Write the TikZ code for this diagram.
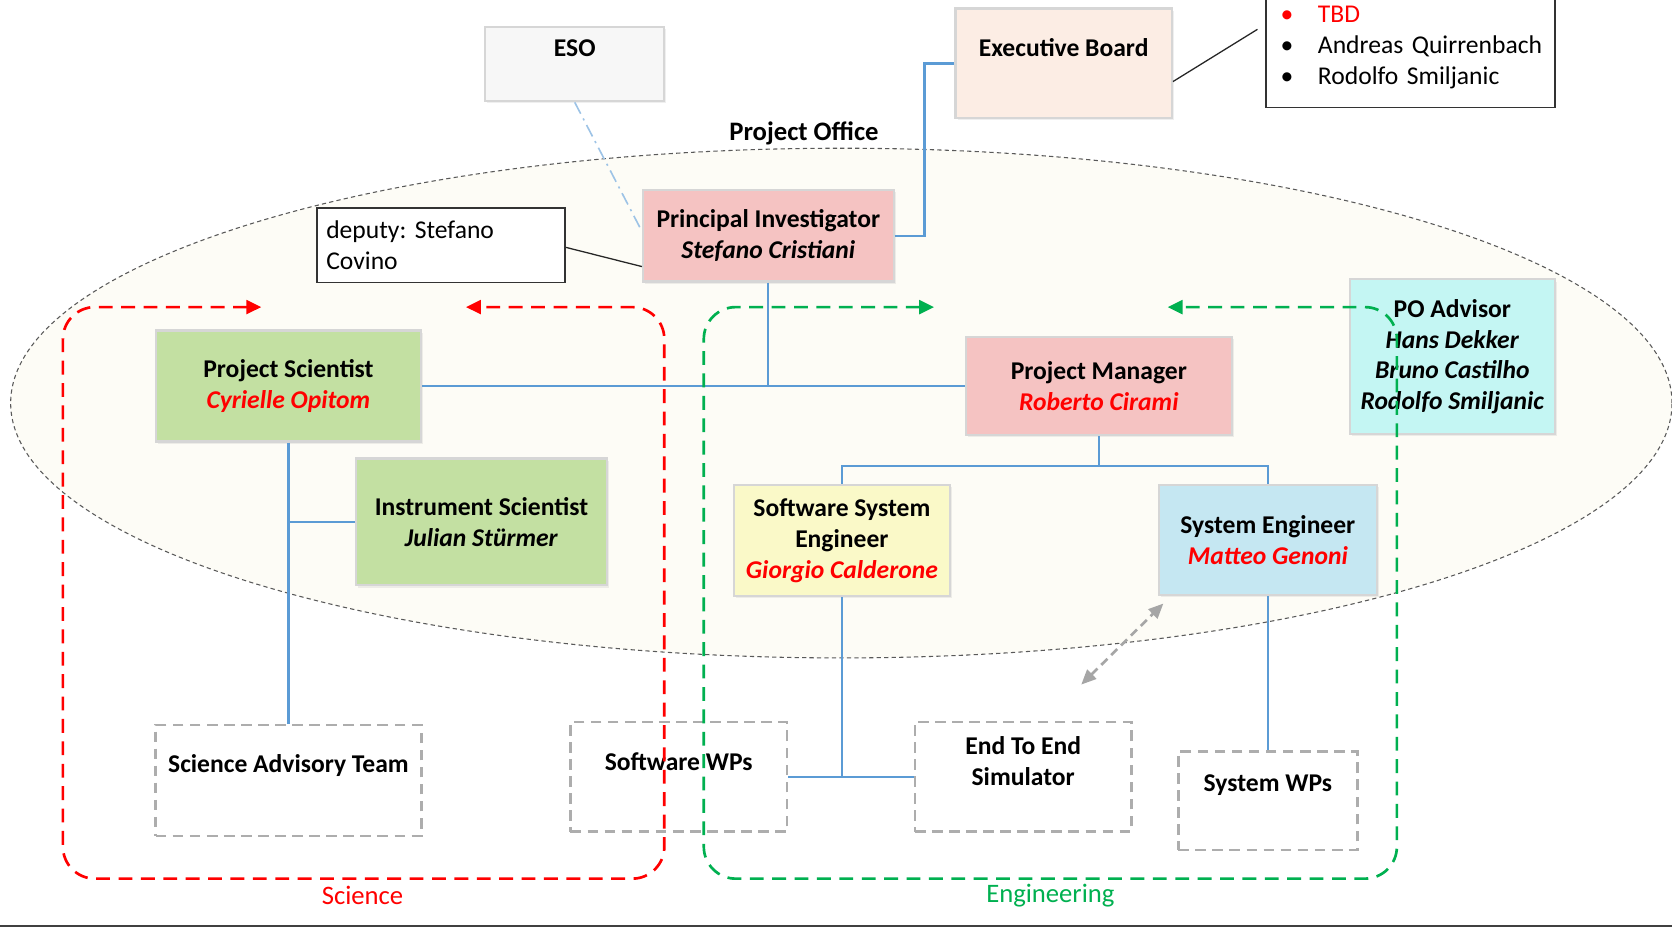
\documentclass[tikz,border=0pt]{standalone}
\usepackage{fontspec}
\setmainfont{Carlito}
\usetikzlibrary{arrows.meta,shadows}
\definecolor{pinkf}{HTML}{F5C3C2}
\definecolor{greenf}{HTML}{C3E0A2}
\definecolor{yellowf}{HTML}{FAF9C8}
\definecolor{bluef}{HTML}{C5E7F2}
\definecolor{cyanf}{HTML}{C4F6F3}
\definecolor{esof}{HTML}{F7F7F7}
\definecolor{ebf}{HTML}{FCEDE4}
\definecolor{ellf}{HTML}{FDFCF6}
\definecolor{connb}{HTML}{5B9BD5}
\definecolor{rgrp}{HTML}{FF0000}
\definecolor{ggrp}{HTML}{00B050}
\definecolor{bgray}{HTML}{D6D6D6}
\definecolor{wgray}{HTML}{ADADAD}
\definecolor{agray}{HTML}{A6A6A6}
\definecolor{eslight}{HTML}{9DC3E6}
\begin{document}
\begin{tikzpicture}[x=1pt,y=-1pt,
  fs/.style={font=\fontsize{24}{29}\selectfont\frenchspacing},
  fsb/.style={font=\fontsize{24}{29}\selectfont\bfseries},
  box/.style={fsb, draw=bgray, line width=2pt, inner sep=0pt, align=center,
    drop shadow={opacity=0.12,shadow xshift=2pt,shadow yshift=-2pt}},
  wpbox/.style={draw=wgray, line width=2.5pt, dash pattern=on 10pt off 6pt, fill=white, inner sep=0pt},
  plainbox/.style={fs, draw=black!80, line width=1.5pt, fill=white, inner ysep=0pt, align=left},
  conn/.style={connb, line width=2pt},
  grpline/.style={line width=2.5pt, dash pattern=on 13pt off 8pt, rounded corners=30pt,
    {Triangle[length=14pt,width=13pt]}-{Triangle[length=14pt,width=13pt]}},
  title/.style={font=\fontsize{25}{30}\selectfont}
]
\useasboundingbox (0,0) rectangle (1568,869);
\fill[white] (0,0) rectangle (1568,869);

% Project office ellipse
\path[draw=black!65, dash pattern=on 4pt off 3pt, line width=1pt, fill=ellf]
  (789,378) ellipse [x radius=779pt, y radius=239pt];

% boxes
\node[box, fill=esof, minimum width=168, minimum height=70] (eso) at (539,60) {};
\node[box, fill=ebf, minimum width=203, minimum height=103] (eb) at (997.5,59.5) {};
\node[box, fill=pinkf, minimum width=235, minimum height=86] (pi) at (720.5,221) {Principal Investigator\\\textit{Stefano Cristiani}};
\node[box, fill=greenf, minimum width=249, minimum height=104] (ps) at (270.5,362) {Project Scientist\\\textcolor{rgrp}{\textit{Cyrielle Opitom}}};
\node[box, fill=greenf, minimum width=235, minimum height=119] (is) at (451.5,489.5) {Instrument Scientist\\\textit{Julian Stürmer}};
\node[box, fill=pinkf, minimum width=249, minimum height=92] (pm) at (1030.5,362) {Project Manager\\\textcolor{rgrp}{\textit{Roberto Cirami}}};
\node[box, fill=cyanf, minimum width=192, minimum height=145] (po) at (1362,334.5) {PO Advisor\\\textit{Hans Dekker}\\\textit{Bruno Castilho}\\\textit{Rodolfo Smiljanic}};
\node[box, fill=yellowf, minimum width=203, minimum height=104] (sse) at (789.5,507) {Software System\\Engineer\\\textcolor{rgrp}{\textit{Giorgio Calderone}}};
\node[box, fill=bluef, minimum width=204, minimum height=103] (se) at (1189,506.5) {System Engineer\\\textcolor{rgrp}{\textit{Matteo Genoni}}};

\node[wpbox, minimum width=249, minimum height=104] (sat) at (270.5,732) {};
\node[wpbox, minimum width=203, minimum height=103] (swp) at (636.5,728.5) {};
\node[wpbox, minimum width=203, minimum height=103] (e2e) at (959.5,728.5) {};
\node[wpbox, minimum width=168, minimum height=92] (syswp) at (1189,751) {};

\node[plainbox, minimum height=70, text width=215, inner xsep=9pt] (dep) at (413.5,230) {deputy: Stefano\\Covino};
\node[plainbox, minimum height=113, text width=257, inner xsep=7pt] (tbd) at (1322.5,44.5)
  {\mbox{\hspace*{7pt}\textcolor{rgrp}{\makebox[35pt][l]{•}TBD}}\\
   \mbox{\hspace*{7pt}\makebox[35pt][l]{•}Andreas Quirrenbach}\\
   \mbox{\hspace*{7pt}\makebox[35pt][l]{•}Rodolfo Smiljanic}};

% connectors
\draw[eslight, line width=1.5pt, dash pattern=on 12pt off 5pt on 2pt off 5pt] (eso.south) -- ([yshift=4pt]pi.west);
\draw[black!85, line width=1.2pt] ([yshift=-17pt]eb.east) -- ([shift={(-7pt,17pt)}]tbd.west);
\draw[black!85, line width=1.2pt] ([yshift=-2pt]dep.east) -- ([yshift=-29pt]pi.west);
\draw[conn] (pi.east) -- ++(28,0) |- (eb.west);
\draw[conn] (ps.east) -- (pm.west);
\draw[conn] (pi.south) -- (pi.south |- pm.west);
\draw[conn] (ps.south) -- (sat.north);
\draw[conn] (is.west) -- (is.west -| ps.south);
\draw[conn] (pm.south) -- ++(0,28) -| (sse.north);
\draw[conn] (pm.south) ++(0,28) -| (se.north);
\draw[conn] (sse.south) -- (sse.south |- e2e.west);
\draw[conn] (swp.east) -- (e2e.west);
\draw[conn] (se.south) -- (syswp.north);

% texts in top-aligned boxes
\node[fsb] (esot) at ([yshift=15pt]eso.center) {ESO};
\node[fsb] (ebt) at ([yshift=14.5pt]eb.center) {Executive Board};
\node[fsb] (satt) at ([yshift=14.5pt]sat.center) {Science Advisory Team};
\node[fsb] (swpt) at ([yshift=14.5pt]swp.center) {Software WPs};
\node[fsb, align=center] (e2et) at ([yshift=14.5pt]e2e.center) {End To End\\Simulator};
\node[fsb] (syswpt) at ([yshift=14.5pt]syswp.center) {System WPs};

\node[font=\fontsize{25}{30}\selectfont\bfseries] (potitle) at (754,125) {Project Office};

% group outlines
\draw[grpline, rgrp] (245,288) -- (59,288) -- (59,824) -- (623,824) -- (623,288) -- (437,288);
\draw[grpline, ggrp] (876,288) -- (660,288) -- (660,824) -- (1310,824) -- (1310,288) -- (1095,288);
\node[title, text=rgrp] (scil) at (340,840) {Science};
\node[title, text=ggrp] (engl) at (985,840) {Engineering};

% gray double arrow
\coordinate (ga) at (1014,642);
\coordinate (gb) at (1091,566);
\draw[agray, line width=2.5pt, dash pattern=on 8pt off 5pt,
  {Triangle[length=14pt,width=12pt]}-{Triangle[length=14pt,width=12pt]}] (ga) -- (gb);

% bottom rule
\draw[black!75, line width=2pt] (0,868) -- (1568,868);
\end{tikzpicture}
\end{document}
